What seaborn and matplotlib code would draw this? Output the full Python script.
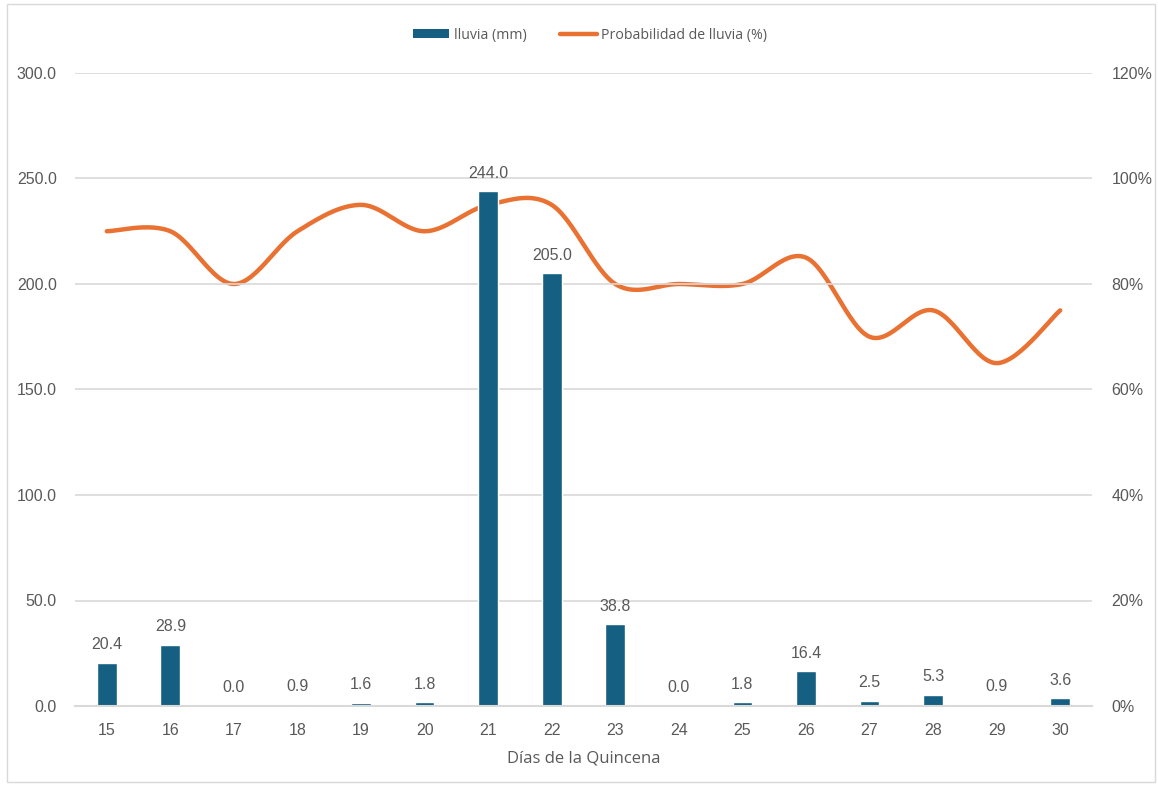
import numpy as np
import pandas as pd
import matplotlib
matplotlib.use("Agg")
import matplotlib.pyplot as plt
from matplotlib.lines import Line2D
from matplotlib.patches import Patch
import seaborn as sns

# Data
dias = ["15", "16", "17", "18", "19", "20", "21", "22", "23", "24", "25", "26", "27", "28", "29", "30"]
lluvia_mm = [20.4, 28.9, 0.0, 0.9, 1.6, 1.8, 244.0, 205.0, 38.8, 0.0, 1.8, 16.4, 2.5, 5.3, 0.9, 3.6]
prob_lluvia = [90, 90, 80, 90, 95, 90, 95, 95, 80, 80, 80, 85, 70, 75, 65, 75]

BAR = "#156082"
LINE = "#E97132"
TXT = "#595959"
GRID = "#D9D9D9"

sns.set_theme(style="white")
plt.rcParams["font.family"] = ["Liberation Sans", "DejaVu Sans"]

fig = plt.figure(figsize=(11.58, 7.86), dpi=100)
ax = fig.add_axes([75 / 1158, 80 / 786, (1092 - 75) / 1158, (706 - 73) / 786])

df = pd.DataFrame({"dia": dias, "lluvia": lluvia_mm})
sns.barplot(data=df, x="dia", y="lluvia", color=BAR, saturation=1, width=0.31, ax=ax, zorder=2)

ax.set_ylim(0, 300)
ax.set_yticks(np.arange(0, 301, 50))
ax.set_yticklabels([f"{v:.1f}" for v in np.arange(0, 301, 50)])
ax.set_xlim(-0.5, len(dias) - 0.5)
ax.grid(axis="y", color=GRID, linewidth=1.2, zorder=0)
ax.set_axisbelow(True)
for s in ["top", "right", "left"]:
    ax.spines[s].set_visible(False)
ax.spines["bottom"].set_color(GRID)
ax.spines["bottom"].set_linewidth(1.5)
ax.tick_params(axis="both", length=0, colors=TXT, labelsize=11.5, pad=12)
ax.tick_params(axis="y", pad=13)
ax.set_xlabel("Días de la Quincena", color=TXT, fontsize=12, labelpad=9, family=["Open Sans", "DejaVu Sans"])
ax.set_ylabel("")

for i, v in enumerate(lluvia_mm):
    ax.text(i, v + 5, f"{v:.1f}", ha="center", va="bottom", color=TXT, fontsize=11.5, zorder=5)

# Secondary axis: smoothed probability line
ax2 = ax.twinx()
ax2.set_ylim(0, 120)
ax2.set_yticks(np.arange(0, 121, 20))
ax2.set_yticklabels([f"{v}%" for v in range(0, 121, 20)])
for s in ax2.spines.values():
    s.set_visible(False)
ax2.tick_params(axis="y", length=0, colors=TXT, labelsize=11.5, pad=14)

x = np.arange(len(prob_lluvia), dtype=float)
y = np.array(prob_lluvia, dtype=float)
xs, ys = [], []
for i in range(len(x) - 1):
    p0 = y[i - 1] if i > 0 else y[i]
    p3 = y[i + 2] if i + 2 < len(y) else y[i + 1]
    x0 = x[i - 1] if i > 0 else x[i]
    x3 = x[i + 2] if i + 2 < len(x) else x[i + 1]
    c1x = x[i] + (x[i + 1] - x0) / 6
    c2x = x[i + 1] - (x3 - x[i]) / 6
    c1y = y[i] + (y[i + 1] - p0) / 6
    c2y = y[i + 1] - (p3 - y[i]) / 6
    t = np.linspace(0, 1, 30)
    bx = (1 - t) ** 3 * x[i] + 3 * (1 - t) ** 2 * t * c1x + 3 * (1 - t) * t ** 2 * c2x + t ** 3 * x[i + 1]
    by = (1 - t) ** 3 * y[i] + 3 * (1 - t) ** 2 * t * c1y + 3 * (1 - t) * t ** 2 * c2y + t ** 3 * y[i + 1]
    xs.extend(bx)
    ys.extend(by)
sns.lineplot(x=xs, y=ys, sort=False, color=LINE, linewidth=3.2, ax=ax2, zorder=3, estimator=None)

ax.set_zorder(ax2.get_zorder() + 1)
ax.patch.set_visible(False)
ax2.set_zorder(0)

handles = [Patch(facecolor=BAR, edgecolor="none"), Line2D([0], [0], color=LINE, linewidth=3.2)]
fig.legend(handles, ["lluvia (mm)", "Probabilidad de lluvia (%)"], loc="center",
           bbox_to_anchor=(590 / 1158, 1 - 35 / 786), ncol=2, frameon=False,
           prop={"family": ["Open Sans", "DejaVu Sans"], "size": 10.2},
           labelcolor=TXT, handlelength=2.6, handleheight=0.6, columnspacing=2.4, handletextpad=0.3)

# light frame around the chart area
fig.patches.append(plt.Rectangle((7 / 1158, 4 / 786), 1148 / 1158, 778 / 786, transform=fig.transFigure,
                                 fill=False, edgecolor="#D9D9D9", linewidth=1))

fig.savefig("out.png", dpi=100, facecolor="white")
